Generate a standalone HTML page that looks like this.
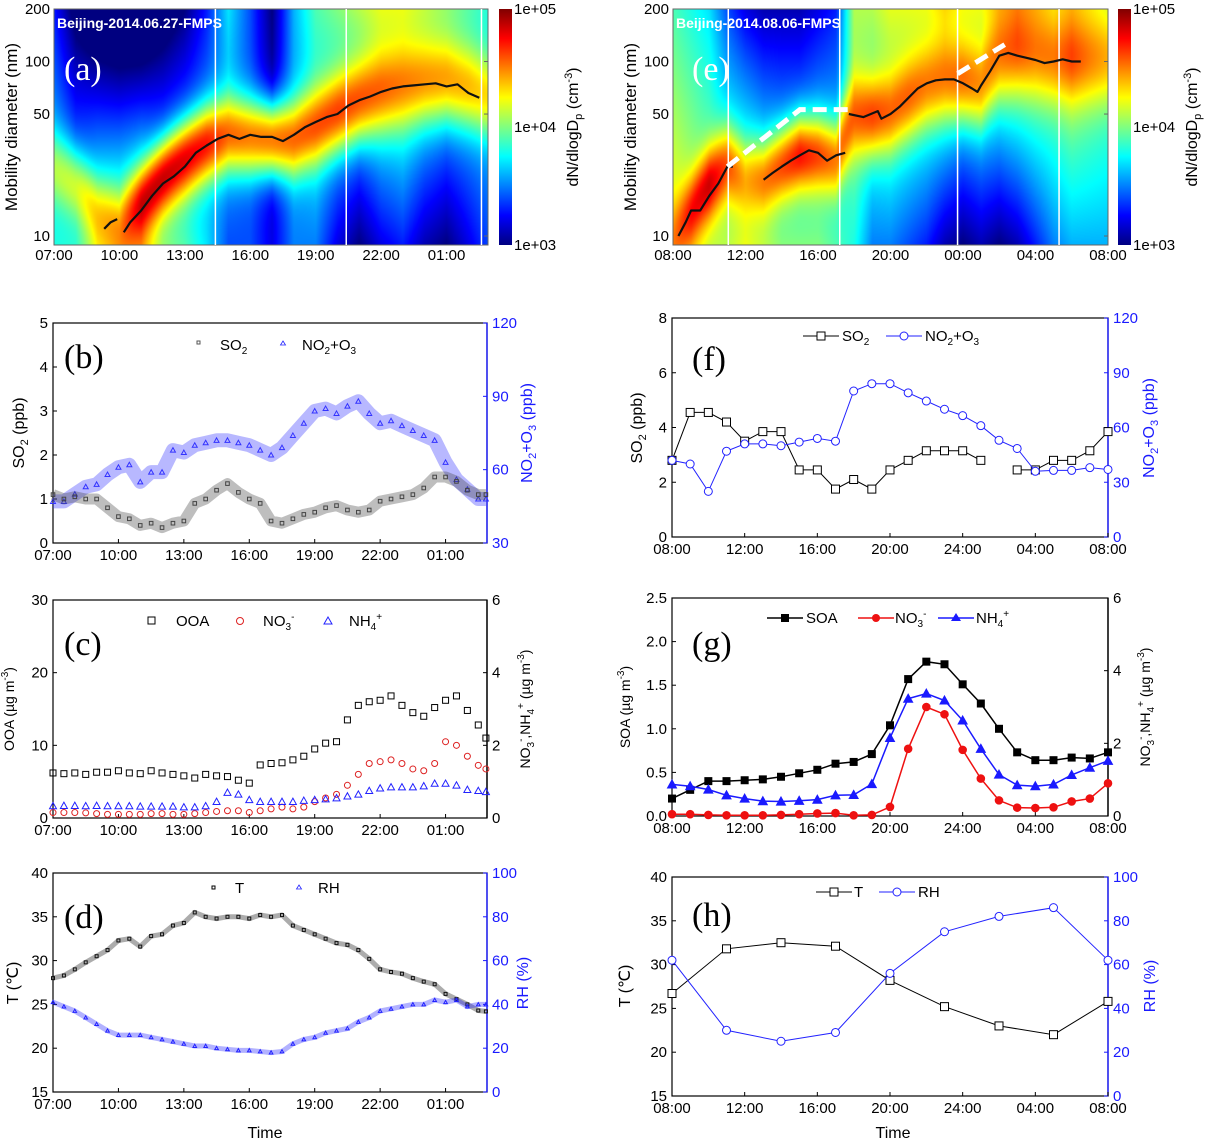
<!DOCTYPE html>
<html><head><meta charset="utf-8">
<style>
html,body{margin:0;padding:0;background:#fff;}
#wrap{position:relative;width:1206px;height:1141px;overflow:hidden;font-family:"Liberation Sans",sans-serif;}
canvas{position:absolute;}
svg{position:absolute;left:0;top:0;}
text{font-family:"Liberation Sans",sans-serif;}
.serif text{font-family:"Liberation Serif",serif;}
</style></head>
<body>
<div id="wrap">
<canvas id="hmA" width="434" height="236" style="left:54px;top:9px"></canvas>
<canvas id="hmE" width="435" height="236" style="left:673px;top:9px"></canvas>
<svg id="fig" width="1206" height="1141" viewBox="0 0 1206 1141">
<defs>
<linearGradient id="jet" x1="0" y1="1" x2="0" y2="0">
<stop offset="0" stop-color="#000080"/><stop offset="0.125" stop-color="#0000ff"/>
<stop offset="0.375" stop-color="#00ffff"/><stop offset="0.5" stop-color="#80ff80"/>
<stop offset="0.625" stop-color="#ffff00"/><stop offset="0.875" stop-color="#ff0000"/>
<stop offset="1" stop-color="#800000"/>
</linearGradient>
</defs>
<rect x="499" y="9" width="13" height="236" fill="url(#jet)"/>
<rect x="1118" y="9" width="13" height="236" fill="url(#jet)"/>
<g font-size="15" fill="#000">
<text x="514" y="14">1e+05</text><text x="514" y="132">1e+04</text><text x="514" y="250">1e+03</text>
<text x="1133" y="14">1e+05</text><text x="1133" y="132">1e+04</text><text x="1133" y="250">1e+03</text>
</g>
<text transform="translate(578,127) rotate(-90)" text-anchor="middle" font-size="16">dN/dlogD<tspan font-size="11" dy="4">p</tspan><tspan dy="-4"> (cm</tspan><tspan font-size="11" dy="-6">-3</tspan><tspan dy="6">)</tspan></text>
<text transform="translate(1197,127) rotate(-90)" text-anchor="middle" font-size="16">dN/dlogD<tspan font-size="11" dy="4">p</tspan><tspan dy="-4"> (cm</tspan><tspan font-size="11" dy="-6">-3</tspan><tspan dy="6">)</tspan></text>
<text transform="translate(17,127) rotate(-90)" text-anchor="middle" font-size="17">Mobility diameter (nm)</text>
<text transform="translate(636,127) rotate(-90)" text-anchor="middle" font-size="17">Mobility diameter (nm)</text>
<text x="57" y="28" font-size="14" font-weight="bold" fill="#fff">Beijing-2014.06.27-FMPS</text>
<text x="676" y="28" font-size="14" font-weight="bold" fill="#fff">Beijing-2014.08.06-FMPS</text>

<text transform="translate(24,433) rotate(-90)" text-anchor="middle" font-size="16">SO<tspan font-size="11" dy="4">2</tspan><tspan dy="-4"> (ppb)</tspan></text>
<text transform="translate(532,433) rotate(-90)" text-anchor="middle" font-size="16" fill="#1a1aff">NO<tspan font-size="11" dy="4">2</tspan><tspan dy="-4">+O</tspan><tspan font-size="11" dy="4">3</tspan><tspan dy="-4"> (ppb)</tspan></text>
<text transform="translate(642,428) rotate(-90)" text-anchor="middle" font-size="16">SO<tspan font-size="11" dy="4">2</tspan><tspan dy="-4"> (ppb)</tspan></text>
<text transform="translate(1154,428) rotate(-90)" text-anchor="middle" font-size="16" fill="#1a1aff">NO<tspan font-size="11" dy="4">2</tspan><tspan dy="-4">+O</tspan><tspan font-size="11" dy="4">3</tspan><tspan dy="-4"> (ppb)</tspan></text>
<text transform="translate(14,709) rotate(-90)" text-anchor="middle" font-size="14">OOA (µg m<tspan font-size="10" dy="-6">-3</tspan><tspan dy="6">)</tspan></text>
<text transform="translate(530,709) rotate(-90)" text-anchor="middle" font-size="14">NO<tspan font-size="10" dy="4">3</tspan><tspan font-size="10" dy="-10">-</tspan><tspan dy="6">,NH</tspan><tspan font-size="10" dy="4">4</tspan><tspan font-size="10" dy="-10">+</tspan><tspan dy="6"> (µg m</tspan><tspan font-size="10" dy="-6">-3</tspan><tspan dy="6">)</tspan></text>
<text transform="translate(630,707) rotate(-90)" text-anchor="middle" font-size="14">SOA (µg m<tspan font-size="10" dy="-6">-3</tspan><tspan dy="6">)</tspan></text>
<text transform="translate(1150,707) rotate(-90)" text-anchor="middle" font-size="14">NO<tspan font-size="10" dy="4">3</tspan><tspan font-size="10" dy="-10">-</tspan><tspan dy="6">,NH</tspan><tspan font-size="10" dy="4">4</tspan><tspan font-size="10" dy="-10">+</tspan><tspan dy="6"> (µg m</tspan><tspan font-size="10" dy="-6">-3</tspan><tspan dy="6">)</tspan></text>
<text transform="translate(18,983) rotate(-90)" text-anchor="middle" font-size="16">T (℃)</text>
<text transform="translate(528,983) rotate(-90)" text-anchor="middle" font-size="16" fill="#1a1aff">RH (%)</text>
<text transform="translate(630,986) rotate(-90)" text-anchor="middle" font-size="16">T (℃)</text>
<text transform="translate(1155,986) rotate(-90)" text-anchor="middle" font-size="16" fill="#1a1aff">RH (%)</text>
<text x="265" y="1138" text-anchor="middle" font-size="16">Time</text>
<text x="893" y="1138" text-anchor="middle" font-size="16">Time</text>

<g class="serif" font-size="34">
<text x="64" y="80" fill="#fff">(a)</text><text x="692" y="80" fill="#fff">(e)</text>
<text x="64" y="368">(b)</text><text x="692" y="370">(f)</text>
<text x="64" y="655">(c)</text><text x="692" y="655">(g)</text>
<text x="64" y="928">(d)</text><text x="692" y="926">(h)</text>
</g>

<g font-size="15">
<rect x="197" y="341" width="3" height="3" fill="none" stroke="#555"/>
<text x="220" y="350">SO<tspan font-size="10" dy="4">2</tspan></text>
<path d="M283 341 l2.5 4 h-5z" fill="none" stroke="#2222ff" stroke-width="0.8"/>
<text x="302" y="350">NO<tspan font-size="10" dy="4">2</tspan><tspan dy="-4">+O</tspan><tspan font-size="10" dy="4">3</tspan></text>
</g>
<g font-size="15">
<rect x="148" y="617" width="7" height="7" fill="none" stroke="#000"/>
<text x="176" y="626">OOA</text>
<circle cx="240" cy="621" r="3.5" fill="none" stroke="#d22"/>
<text x="263" y="626">NO<tspan font-size="10" dy="4">3</tspan><tspan font-size="10" dy="-10">-</tspan></text>
<path d="M328 617 l4 7 h-8z" fill="none" stroke="#2222ff"/>
<text x="349" y="626">NH<tspan font-size="10" dy="4">4</tspan><tspan font-size="10" dy="-10">+</tspan></text>
</g>
<g font-size="15">
<rect x="212" y="886" width="3" height="3" fill="none" stroke="#000"/>
<text x="235" y="893">T</text>
<path d="M299 885 l2.5 4 h-5z" fill="none" stroke="#2222ff" stroke-width="0.8"/>
<text x="318" y="893">RH</text>
</g>
<g font-size="15">
<line x1="803" y1="336" x2="839" y2="336" stroke="#000"/><rect x="817" y="332" width="8" height="8" fill="#fff" stroke="#000"/>
<text x="842" y="341">SO<tspan font-size="10" dy="4">2</tspan></text>
<line x1="886" y1="336" x2="922" y2="336" stroke="#2222ff"/><circle cx="904" cy="336" r="4" fill="#fff" stroke="#2222ff"/>
<text x="925" y="341">NO<tspan font-size="10" dy="4">2</tspan><tspan dy="-4">+O</tspan><tspan font-size="10" dy="4">3</tspan></text>
</g>
<g font-size="15">
<line x1="767" y1="618" x2="803" y2="618" stroke="#000" stroke-width="1.5"/><rect x="781" y="614" width="8" height="8" fill="#000"/>
<text x="806" y="623">SOA</text>
<line x1="858" y1="618" x2="894" y2="618" stroke="#e11" stroke-width="1.5"/><circle cx="876" cy="618" r="4" fill="#e11"/>
<text x="895" y="623">NO<tspan font-size="10" dy="4">3</tspan><tspan font-size="10" dy="-10">-</tspan></text>
<line x1="938" y1="618" x2="974" y2="618" stroke="#1a1aff" stroke-width="1.5"/><path d="M956 613 l5 8 h-10z" fill="#1a1aff"/>
<text x="976" y="623">NH<tspan font-size="10" dy="4">4</tspan><tspan font-size="10" dy="-10">+</tspan></text>
</g>
<g font-size="15">
<line x1="816" y1="892" x2="852" y2="892" stroke="#000"/><rect x="830" y="888" width="8" height="8" fill="#fff" stroke="#000"/>
<text x="854" y="897">T</text>
<line x1="879" y1="892" x2="915" y2="892" stroke="#2222ff"/><circle cx="897" cy="892" r="4" fill="#fff" stroke="#2222ff"/>
<text x="918" y="897">RH</text>
</g>
<g id="marks"></g>
</svg>
</div>
<script>
const hoursA = [7,8,9,10,11,12,13,14,15,16,17,18,19,20,21,22,23,24,25,26,27];
const modeA  = [25,20,14,12,16,22,28,34,38,37,36,36,42,50,58,65,70,74,76,70,62];
const peakA  = [4.1,4.15,4.35,4.45,4.85,4.85,4.8,4.72,4.55,4.5,4.5,4.55,4.6,4.62,4.58,4.55,4.5,4.45,4.42,4.38,4.3];
const lowA   = [3.8,3.8,4.1,4.2,4.3,4.0,3.9,3.7,3.4,3.4,3.2,3.5,3.5,3.2,3.0,3.2,3.3,3.1,3.0,3.2,3.4];
const highA  = [3.3,2.9,2.7,2.6,2.6,2.8,3.0,3.3,3.7,3.4,3.0,3.6,3.9,4.0,4.1,4.2,4.2,4.1,4.0,3.9,3.8];
const curveHA = [9.3,9.6,9.9,null,10.2,10.5,11,11.5,12,12.5,13,13.5,14,14.5,15,15.5,16,16.5,17,17.5,18,18.5,19,19.5,20,20.5,21,21.5,22,22.5,23,23.5,24,24.5,25,25.5,26,26.5];
const curveDA = [11,12,12.5,null,10.5,12,14,17,20,22,25,30,33,36,38,36,38,37,37,35,38,42,45,48,50,56,60,63,67,70,72,73,74,75,72,74,66,62];
const hoursE = [8,9,10,11,12,13,14,15,16,17,18,19,20,21,22,23,24,25,26,27,28,29,30,31,32];
const modeE  = [10,14,20,26,22,22,26,30,30,28,48,48,50,60,70,75,75,70,100,110,105,100,100,100,100];
const peakE  = [4.5,4.75,4.85,4.6,4.4,4.5,4.6,4.72,4.62,4.5,4.58,4.62,4.55,4.55,4.5,4.5,4.52,4.45,4.5,4.58,4.5,4.5,4.62,4.5,4.4];
const lowE   = [4.3,4.2,4.1,4.1,4.2,4.1,4.0,4.0,4.0,3.9,3.8,3.5,3.5,3.4,3.3,3.1,3.0,3.1,3.0,3.1,3.3,3.5,3.6,3.6,3.6];
const highE  = [3.9,3.8,3.7,3.4,3.2,3.1,3.1,3.1,3.2,3.3,4.1,4.1,4.2,4.2,4.2,4.3,4.2,4.2,4.3,4.35,4.3,4.2,4.3,4.2,4.1];
const curveHE = [8.3,8.7,9,9.5,10,10.5,11,11.3,null,13,13.5,14,14.5,15,15.5,16,16.5,17,17.5,null,17.7,18.5,19.3,19.5,20,20.5,21,21.5,22,22.5,23,23.5,24,24.5,24.8,25,25.5,26,26.5,27,27.5,28,28.5,29,29.5,30,30.5];
const curveDE = [10,12,14,14,17,20,25,25,null,21,23,25,27,29,31,30,27,29,30,null,50,48,52,47,50,55,62,70,75,78,79,79,75,70,67,73,88,108,112,108,105,102,98,100,103,100,100];
const dashH1 = [11,15,17.7], dashD1 = [25,53,53];
const dashH2 = [23.7,26.3], dashD2 = [85,125];
const whiteLinesA = [14.4,20.4,26.6];
const whiteLinesE = [11.05,17.2,23.7,29.3];

const hoursL = [7,7.5,8,8.5,9,9.5,10,10.5,11,11.5,12,12.5,13,13.5,14,14.5,15,15.5,16,16.5,17,17.5,18,18.5,19,19.5,20,20.5,21,21.5,22,22.5,23,23.5,24,24.5,25,25.5,26,26.5,26.85];
const so2B  = [1.1,1.0,1.05,1.0,1.0,0.8,0.6,0.55,0.4,0.45,0.35,0.45,0.5,0.9,1.0,1.2,1.35,1.15,1.0,0.9,0.5,0.45,0.55,0.65,0.7,0.8,0.85,0.75,0.7,0.75,0.95,1.0,1.05,1.1,1.25,1.5,1.5,1.4,1.2,1.1,1.1];
const noxB  = [47,47,50,53,54,58,61,62,55,59,59,68,67,70,71,72,72,71,70,68,66,69,74,79,84,85,83,86,88,83,79,80,78,76,74,72,63,56,52,48,48];
const ooaC  = [6.2,6.1,6.2,6.0,6.3,6.3,6.5,6.2,6.1,6.5,6.2,6.0,5.8,5.5,6.0,5.8,5.7,5.2,4.8,7.3,7.5,7.6,8.0,8.5,9.5,10.3,10.5,13.5,15.5,16.0,16.2,16.8,15.5,14.5,14.0,15.2,16.2,16.8,14.8,12.8,11.0];
const no3C  = [0.15,0.15,0.15,0.14,0.12,0.1,0.1,0.1,0.1,0.12,0.12,0.1,0.1,0.12,0.15,0.18,0.2,0.2,0.15,0.2,0.25,0.3,0.25,0.3,0.45,0.55,0.65,0.9,1.2,1.5,1.55,1.6,1.5,1.35,1.3,1.5,2.1,2.0,1.7,1.45,1.35];
const nh4C  = [0.33,0.34,0.34,0.33,0.34,0.33,0.33,0.33,0.32,0.32,0.32,0.32,0.3,0.3,0.33,0.45,0.7,0.65,0.5,0.45,0.45,0.45,0.45,0.48,0.5,0.52,0.55,0.6,0.65,0.75,0.82,0.85,0.85,0.85,0.88,0.95,0.95,0.9,0.78,0.75,0.72];
const tempD = [28,28.3,29,29.8,30.5,31.2,32.3,32.5,31.6,32.8,33,34,34.3,35.5,35,34.8,35,35,34.8,35.2,35,35.2,34,33.5,33,32.5,32,31.8,31.2,30.2,29,28.7,28.5,28,27.6,27.3,26.2,25.6,25,24.3,24.2];
const rhD   = [41,39,37,34,31,28,26,26,26,25,24,23,22,21,21,20,19.5,19,19,18.5,18,18.5,22,24,25,27,28,29,32,34,37,38,39,40,40,42,41,42,39,40,40];
const hoursR = [8,9,10,11,12,13,14,15,16,17,18,19,20,21,22,23,24,25,26,27,28,29,30,31,32];
const so2F  = [2.8,4.55,4.55,4.2,3.5,3.85,3.85,2.45,2.45,1.75,2.1,1.75,2.45,2.8,3.15,3.15,3.15,2.8,null,2.45,2.45,2.8,2.8,3.15,3.85];
const noxF  = [42,40,25,47,51,51,50,52,54,52.5,80,84,84,79,74.5,70,66.5,61,53,48.5,36,36.5,36.5,38,37];
const soaG  = [0.2,0.3,0.4,0.4,0.41,0.42,0.45,0.49,0.53,0.6,0.62,0.71,1.04,1.57,1.77,1.74,1.51,1.29,1.0,0.73,0.64,0.64,0.67,0.66,0.73];
const no3G  = [0.05,0.05,0.03,0.02,0.02,0.02,0.03,0.05,0.07,0.08,0.02,0.03,0.25,1.85,3.0,2.8,1.82,1.03,0.43,0.23,0.22,0.24,0.4,0.48,0.9];
const nh4G  = [0.87,0.82,0.73,0.57,0.48,0.41,0.4,0.42,0.45,0.57,0.58,0.88,2.15,3.23,3.37,3.18,2.63,1.85,1.14,0.85,0.82,0.87,1.13,1.33,1.52];
const hoursH = [8,11,14,17,20,23,26,29,32];
const tempH = [26.7,31.8,32.5,32.1,28.2,25.2,23,22,25.8];
const rhH   = [62,30,25,29,56,75,82,86,62];
const tickHL = [7,10,13,16,19,22,25];
const tickLabL = ["07:00","10:00","13:00","16:00","19:00","22:00","01:00"];
const tickHR = [8,12,16,20,24,28,32];
const tickLabR = ["08:00","12:00","16:00","20:00","24:00","04:00","08:00"];
const tickLabE = ["08:00","12:00","16:00","20:00","00:00","04:00","08:00"];
const diamTicks = [10,50,100,200];

const NS = "http://www.w3.org/2000/svg";
const marks = document.getElementById('marks');
function mk(tag, attrs, parent){ const e=document.createElementNS(NS,tag); for(const k in attrs) e.setAttribute(k,attrs[k]); (parent||marks).appendChild(e); return e; }
function lin(d0,d1,r0,r1){ return v => r0 + (v-d0)/(d1-d0)*(r1-r0); }
function interp(xs, ys, x){ if(x<=xs[0]) return ys[0]; for(let i=1;i<xs.length;i++){ if(x<=xs[i]){ const t=(x-xs[i-1])/(xs[i]-xs[i-1]); return ys[i-1]+t*(ys[i]-ys[i-1]); } } return ys[ys.length-1]; }
function jet(t){ t=Math.max(0,Math.min(1,t)); const c=v=>Math.round(255*Math.max(0,Math.min(1,v))); return [c(1.5-Math.abs(4*t-3)), c(1.5-Math.abs(4*t-2)), c(1.5-Math.abs(4*t-1))]; }

function drawHeat(id, hrs, mode, peak, low, high, h0, h1, W, H){
  const cv=document.getElementById(id), ctx=cv.getContext('2d');
  const img=ctx.createImageData(W,H);
  const L200=Math.log10(200), L10=Math.log10(10), Lmin=Math.log10(9), span=L200-Lmin;
  for(let px=0;px<W;px++){
    const h=h0+(px+0.5)/W*(h1-h0);
    const lm=Math.log10(interp(hrs,mode,h)), pk=interp(hrs,peak,h), lo=interp(hrs,low,h), hi=interp(hrs,high,h);
    for(let py=0;py<H;py++){
      const ld=L200-(py/227)*(L200-L10);
      const f=(ld-Lmin)/span;
      const bg=lo+(hi-lo)*f;
      const bgm=lo+(hi-lo)*((lm-Lmin)/span);
      const w=0.2+0.06*((lm-1)/1.1);
      let v=bg+(pk-bgm)*Math.exp(-Math.pow((ld-lm)/w,2));
      const c=jet((v-3)/2); const i=(py*W+px)*4;
      img.data[i]=c[0]; img.data[i+1]=c[1]; img.data[i+2]=c[2]; img.data[i+3]=255;
    }
  }
  ctx.putImageData(img,0,0);
}
drawHeat('hmA',hoursA,modeA,peakA,lowA,highA,7,26.9,434,236);
drawHeat('hmE',hoursE,modeE,peakE,lowE,highE,8,32,435,236);

function diamY(T){ return d => T + (Math.log10(200)-Math.log10(d))/Math.log10(20)*227; }
function heatOverlay(key,L,R,T,B,h0,h1,cH,cD,whites,tickLabs,tickHs){
  const x=lin(h0,h1,L,R), y=diamY(T);
  mk('rect',{x:L,y:T,width:R-L,height:B-T,fill:'none',stroke:'#666','stroke-width':1});
  whites.forEach(h=>{ const l=mk('line',{x1:x(h),x2:x(h),y1:T,y2:B,stroke:'#fff','stroke-width':1.5});
    
     });
  let d=''; let pen=false;
  for(let i=0;i<cH.length;i++){ if(cH[i]===null){pen=false;continue;} d+=(pen?'L':'M')+x(cH[i]).toFixed(1)+' '+y(cD[i]).toFixed(1); pen=true; }
  const p=mk('path',{d:d,fill:'none',stroke:'#111','stroke-width':2.2,'stroke-linejoin':'round'});
  
  
  diamTicks.forEach(v=>{ const t=mk('text',{x:L-4,y:y(v)+5,'text-anchor':'end','font-size':15}); t.textContent=v;
    
    
    mk('line',{x1:R,x2:R-4,y1:y(v),y2:y(v),stroke:'#666'}); });
  tickHs.forEach((h,i)=>{ const t=mk('text',{x:x(h),y:B+15,'text-anchor':'middle','font-size':15}); t.textContent=tickLabs[i];
    
     });
  return {x,y};
}
heatOverlay('a',54,488,9,245,7,26.9,curveHA,curveDA,whiteLinesA,tickLabL,tickHL);
const sE=heatOverlay('e',673,1108,9,245,8,32,curveHE,curveDE,whiteLinesE,tickLabE,tickHR);
[[dashH1,dashD1],[dashH2,dashD2]].forEach(pr=>{
  const pts=pr[0].map((h,i)=>sE.x(h).toFixed(1)+','+sE.y(pr[1][i]).toFixed(1)).join(' ');
  const pl=mk('polyline',{points:pts,fill:'none',stroke:'#fff','stroke-width':5,'stroke-dasharray':'14 7'});
  
  
});

function frame(key,L,R,T,B,h0,h1,yl,yr,lt,rt,rightColor,tickHs,tickLabs,dec){
  const x=lin(h0,h1,L,R), y1=lin(yl[0],yl[1],B,T), y2=lin(yr[0],yr[1],B,T);
  const f=mk('rect',{x:L,y:T,width:R-L,height:B-T,fill:'none',stroke:'#000','stroke-width':1.2});
  
  
  mk('line',{x1:R,x2:R,y1:T,y2:B,stroke:rightColor,'stroke-width':1.4});
  lt.forEach(v=>{ mk('line',{x1:L,x2:L+4,y1:y1(v),y2:y1(v),stroke:'#000'});
    const t=mk('text',{x:L-5,y:y1(v)+5,'text-anchor':'end','font-size':15}); t.textContent=dec?v.toFixed(1):v;
    
     });
  rt.forEach(v=>{ mk('line',{x1:R,x2:R-4,y1:y2(v),y2:y2(v),stroke:rightColor});
    const t=mk('text',{x:R+5,y:y2(v)+5,'font-size':15,fill:rightColor}); t.textContent=v;
    
     });
  tickHs.forEach((h,i)=>{ mk('line',{x1:x(h),x2:x(h),y1:B,y2:B-4,stroke:'#000'});
    const t=mk('text',{x:x(h),y:B+17,'text-anchor':'middle','font-size':15}); t.textContent=tickLabs[i];
    
     });
  return {x,y1,y2};
}
function marker(shape,cx,cy,s,stroke,fill){
  if(shape==='sq') return mk('rect',{x:cx-s,y:cy-s,width:2*s,height:2*s,fill:fill,stroke:stroke,'stroke-width':1});
  if(shape==='ci') return mk('circle',{cx:cx,cy:cy,r:s,fill:fill,stroke:stroke,'stroke-width':1});
  return mk('path',{d:`M${cx} ${cy-s} L${cx+s} ${cy+s*0.8} L${cx-s} ${cy+s*0.8}Z`,fill:fill,stroke:stroke,'stroke-width':1});
}
function series(name,hs,vals,sx,sy,color,shape,size,fill,lineW,band,bandW){
  let d='',pen=false;
  hs.forEach((h,i)=>{ if(vals[i]===null){pen=false;return;} d+=(pen?'L':'M')+sx(h).toFixed(1)+' '+sy(vals[i]).toFixed(1); pen=true; });
  if(band){ const b=mk('path',{d:d,fill:'none',stroke:color,'stroke-width':bandW,'stroke-opacity':0.35,'stroke-linejoin':'round'});
    
     }
  if(lineW>0){ const l=mk('path',{d:d,fill:'none',stroke:color,'stroke-width':lineW});
    
     }
  hs.forEach((h,i)=>{ if(vals[i]===null) return;
    const m=marker(shape,sx(h),sy(vals[i]),size,color,fill);
    
     });
}
const BL='#1a1aff';
let s=frame('b',53,487,323,543,7,26.9,[0,5],[30,120],[0,1,2,3,4,5],[30,60,90,120],BL,tickHL,tickLabL,false);
series('no2-o3',hoursL,noxB,s.x,s.y2,'#3333ff','tri',2.5,'none',0,true,14);
series('so2',hoursL,so2B,s.x,s.y1,'#444','sq',1.8,'none',0,true,11);
s=frame('c',53,487,600,818,7,26.9,[0,30],[0,6],[0,10,20,30],[0,2,4,6],'#000',tickHL,tickLabL,false);
series('ooa',hoursL,ooaC,s.x,s.y1,'#000','sq',3,'none',0,false,0);
series('no3',hoursL,no3C,s.x,s.y2,'#d22','ci',3,'none',0,false,0);
series('nh4',hoursL,nh4C,s.x,s.y2,'#2222ff','tri',3.5,'none',0,false,0);
s=frame('d',53,487,873,1092,7,26.9,[15,40],[0,100],[15,20,25,30,35,40],[0,20,40,60,80,100],BL,tickHL,tickLabL,false);
series('temperature',hoursL,tempD,s.x,s.y1,'#111','sq',1.5,'none',0,true,5);
series('rh',hoursL,rhD,s.x,s.y2,'#2222ff','tri',1.8,'none',0,true,5);
s=frame('f',672,1108,318,537,8,32,[0,8],[0,120],[0,2,4,6,8],[0,30,60,90,120],BL,tickHR,tickLabR,false);
series('so2',hoursR,so2F,s.x,s.y1,'#000','sq',4,'#fff',1,false,0);
series('no2-o3',hoursR,noxF,s.x,s.y2,'#2222ff','ci',4,'#fff',1,false,0);
s=frame('g',672,1108,598,816,8,32,[0,2.5],[0,6],[0,0.5,1,1.5,2,2.5],[0,2,4,6],'#000',tickHR,tickLabR,true);
series('soa',hoursR,soaG,s.x,s.y1,'#000','sq',3.5,'#000',1.5,false,0);
series('no3',hoursR,no3G,s.x,s.y2,'#e11','ci',3.8,'#e11',1.5,false,0);
series('nh4',hoursR,nh4G,s.x,s.y2,BL,'tri',4.5,BL,1.5,false,0);
s=frame('h',672,1108,877,1096,8,32,[15,40],[0,100],[15,20,25,30,35,40],[0,20,40,60,80,100],BL,tickHR,tickLabR,false);
series('temperature',hoursH,tempH,s.x,s.y1,'#000','sq',4,'#fff',1,false,0);
series('rh',hoursH,rhH,s.x,s.y2,'#2222ff','ci',4,'#fff',1,false,0);
</script>
</body></html>
